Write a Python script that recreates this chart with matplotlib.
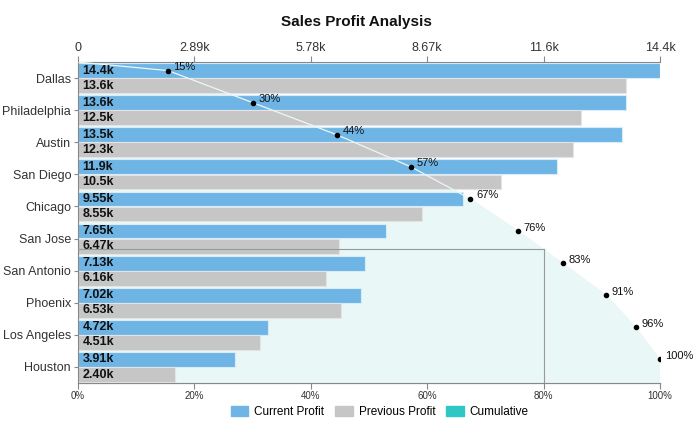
import numpy as np
import matplotlib.pyplot as plt
from matplotlib.patches import Patch

plt.rcParams["font.family"] = ["Liberation Sans", "DejaVu Sans"]

cities = ["Dallas", "Philadelphia", "Austin", "San Diego", "Chicago",
          "San Jose", "San Antonio", "Phoenix", "Los Angeles", "Houston"]
current = [14450, 13600, 13500, 11900, 9550, 7650, 7130, 7020, 4720, 3910]
previous = [13600, 12500, 12300, 10500, 8550, 6470, 6160, 6530, 4510, 2400]

blue = "#6eb5e6"
grey = "#c6c6c6"
cyan = "#2ec7c4"


def fmt_k(v):
    k = v / 1000
    if k >= 10:
        return f"{k:.1f}k"
    return f"{k:.2f}k"


xmax = max(current)
cum = np.cumsum(current) / sum(current)
ypos = np.arange(len(cities))

fig = plt.figure(figsize=(6.94, 4.34), dpi=100)
ax = fig.add_axes([0.1124, 0.1175, 0.8386, 0.7395])

off = 0.235
h = 0.46

# cumulative area behind the bars
px = cum * xmax
py = ypos - off
area_x = np.concatenate([[0], px, [xmax]])
area_y = np.concatenate([[-0.5], py, [9.5]])
ax.fill(np.concatenate([area_x, [0]]), np.concatenate([area_y, [9.5]]),
        color="#e9f7f7", zorder=1, lw=0)

ax.barh(ypos - off, current, height=h, color=blue, edgecolor="#d8ecf8",
        linewidth=0.8, zorder=2)
ax.barh(ypos + off, previous, height=h, color=grey, edgecolor="#e4e4e4",
        linewidth=0.8, zorder=2)

for i in range(len(cities)):
    ax.text(xmax * 0.008, i - off, fmt_k(current[i]), va="center", ha="left",
            fontsize=9, fontweight="bold", color="#111", zorder=5)
    ax.text(xmax * 0.008, i + off, fmt_k(previous[i]), va="center", ha="left",
            fontsize=9, fontweight="bold", color="#111", zorder=5)

# cumulative line and points
ax.plot(area_x[:-1], area_y[:-1], color="#eef6f6", lw=0.9, zorder=3)
ax.scatter(px, py, s=9, color="black", zorder=6)
for x, y, c in zip(px, py, cum):
    ax.annotate(f"{c * 100:.0f}%", (x, y), xytext=(4, 2.5),
                textcoords="offset points", fontsize=8, color="#111",
                va="center", ha="left", zorder=6)

# 80% marker
y80 = np.interp(0.8, cum, py)
ax.plot([0, 0.8 * xmax], [y80, y80], color="#999999", lw=0.8, zorder=4)
ax.plot([0.8 * xmax, 0.8 * xmax], [y80, 9.5], color="#999999", lw=0.8, zorder=4)

ax.set_xlim(0, xmax)
ax.set_ylim(9.5, -0.5)
ax.set_yticks(ypos)
ax.set_yticklabels(cities, fontsize=9, color="#333")

ticks = np.linspace(0, xmax, 6)
ax.xaxis.set_ticks_position("top")
ax.set_xticks(ticks)
ax.set_xticklabels(["0"] + [fmt_k(t) for t in ticks[1:]], fontsize=9, color="#333")
ax.tick_params(axis="x", length=4, color="#888", pad=2)
ax.tick_params(axis="y", length=3, color="#888", pad=2)

sec = ax.secondary_xaxis("bottom", functions=(lambda v: v / xmax * 100,
                                               lambda p: p * xmax / 100))
sec.set_xticks([0, 20, 40, 60, 80, 100])
sec.set_xticklabels(["0%", "20%", "40%", "60%", "80%", "100%"], fontsize=7, color="#333")
sec.tick_params(length=4, color="#888", pad=2)
sec.spines["bottom"].set_color("#888")

ax.spines["right"].set_visible(False)
for s in ["top", "left", "bottom"]:
    ax.spines[s].set_color("#888")

fig.suptitle("Sales Profit Analysis", x=0.513, y=0.965, fontsize=11,
             fontweight="bold", color="#111")

handles = [Patch(color=blue, label="Current Profit"),
           Patch(color=grey, label="Previous Profit"),
           Patch(color=cyan, label="Cumulative")]
fig.legend(handles=handles, loc="center", bbox_to_anchor=(0.547, 0.05), ncol=3,
           frameon=False, fontsize=8.5, handlelength=1.5, handleheight=0.9,
           columnspacing=0.9, handletextpad=0.5)

fig.savefig("out.png", dpi=100)
